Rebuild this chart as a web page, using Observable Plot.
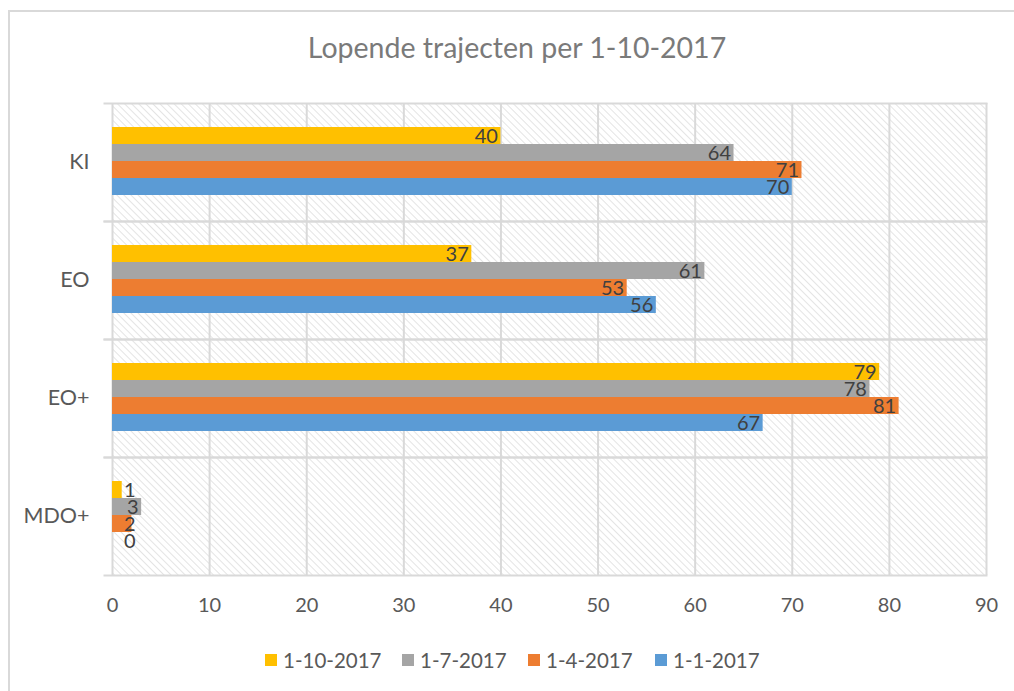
<!DOCTYPE html>
<html><head><meta charset="utf-8">
<script src="https://cdn.jsdelivr.net/npm/d3@7"></script>
<script src="https://cdn.jsdelivr.net/npm/@observablehq/plot@0.6"></script>
<style>
body{margin:0;background:#fff;font-family:Lato,sans-serif;}
#chart{position:relative;width:1014px;height:691px;overflow:hidden;background:#fff;}
#border{position:absolute;left:8px;top:10px;width:1100px;height:800px;border-left:2px solid #d9d9d9;border-top:2px solid #d9d9d9;}
#title{position:absolute;left:0;width:1034px;top:30px;text-align:center;font-size:28.5px;color:#7a7a7a;white-space:nowrap;}
#plot{position:absolute;left:0;top:85px;}
#legend{position:absolute;left:265px;top:648px;display:flex;align-items:center;font-size:20.5px;color:#595959;white-space:nowrap;}
#legend .item{display:flex;align-items:center;}
#legend .sw{width:12px;height:12px;margin-right:6px;}
</style>
</head><body>
<div id="chart">
  <div id="border"></div>
  <div id="title">Lopende trajecten per 1-10-2017</div>
  <div id="plot"></div>
  <div id="legend"></div>
</div>
<script>
const categories = ["KI", "EO", "EO+", "MDO+"];
const seriesNames = ["1-10-2017", "1-7-2017", "1-4-2017", "1-1-2017"];
const seriesColors = ["#FFC000", "#A5A5A5", "#ED7D31", "#5B9BD5"];
const values_1_10_2017 = [40, 37, 79, 1];
const values_1_7_2017 = [64, 61, 78, 3];
const values_1_4_2017 = [71, 53, 81, 2];
const values_1_1_2017 = [70, 56, 67, 0];
const xTicks = [0, 10, 20, 30, 40, 50, 60, 70, 80, 90];

const seriesValues = [values_1_10_2017, values_1_7_2017, values_1_4_2017, values_1_1_2017];
const data = [];
categories.forEach((c, ci) => {
  seriesNames.forEach((s, si) => {
    data.push({category: c, series: s, value: seriesValues[si][ci]});
  });
});

const textColor = "#595959";
const gridColor = "#d9d9d9";

const plot = Plot.plot({
  width: 1014,
  height: 536,
  marginLeft: 112,
  marginRight: 28,
  marginTop: 17,
  marginBottom: 45,
  style: {fontFamily: "Lato, sans-serif", color: textColor, background: "transparent"},
  x: {domain: [0, 90], label: null},
  y: {domain: seriesNames, axis: null, paddingInner: 0, paddingOuter: 1.29, align: 0.48},
  fy: {domain: categories, padding: 0, label: null},
  color: {domain: seriesNames, range: seriesColors},
  marks: [
    Plot.frame({fill: "url(#hatch)", stroke: null}),
    Plot.gridX(xTicks, {stroke: gridColor, strokeOpacity: 1, strokeWidth: 2}),
    Plot.frame({anchor: "top", stroke: gridColor, strokeWidth: 2, insetLeft: -8}),
    Plot.frame({anchor: "bottom", stroke: gridColor, strokeWidth: 2, insetLeft: -8}),
    Plot.barX(data, {x: "value", y: "series", fy: "category", fill: "series"}),
    Plot.text(data, {x: d => Math.max(d.value, 2.7), y: "series", fy: "category", text: d => String(d.value),
      textAnchor: "end", dx: -3, dy: 1, fill: "#404040", fontSize: 20}),
    Plot.axisX(xTicks, {tickSize: 0, tickPadding: 22, fontSize: 20, fill: textColor}),
    Plot.axisFy({anchor: "left", tickSize: 0, tickPadding: 23, fontSize: 21.5, fill: textColor})
  ]
});

// hatch pattern definition
const ns = "http://www.w3.org/2000/svg";
const defs = document.createElementNS(ns, "defs");
const pat = document.createElementNS(ns, "pattern");
pat.setAttribute("id", "hatch");
pat.setAttribute("patternUnits", "userSpaceOnUse");
pat.setAttribute("width", "5");
pat.setAttribute("height", "5");
pat.setAttribute("patternTransform", "rotate(-45)");
const bg = document.createElementNS(ns, "rect");
bg.setAttribute("width", "5"); bg.setAttribute("height", "5"); bg.setAttribute("fill", "#ffffff");
const ln = document.createElementNS(ns, "line");
ln.setAttribute("x1", "0"); ln.setAttribute("y1", "0"); ln.setAttribute("x2", "0"); ln.setAttribute("y2", "5");
ln.setAttribute("stroke", "#d9d9d9"); ln.setAttribute("stroke-width", "1.4");
pat.appendChild(bg); pat.appendChild(ln); defs.appendChild(pat);
plot.insertBefore(defs, plot.firstChild);

document.getElementById("plot").appendChild(plot);

const legendWidths = [137, 126, 127, 130];
const legend = document.getElementById("legend");
seriesNames.forEach((s, i) => {
  const item = document.createElement("div");
  item.className = "item";
  item.style.width = legendWidths[i] + "px";
  const sw = document.createElement("div");
  sw.className = "sw";
  sw.style.background = seriesColors[i];
  const t = document.createElement("span");
  t.textContent = s;
  item.appendChild(sw); item.appendChild(t);
  legend.appendChild(item);
});
</script>
</body></html>
